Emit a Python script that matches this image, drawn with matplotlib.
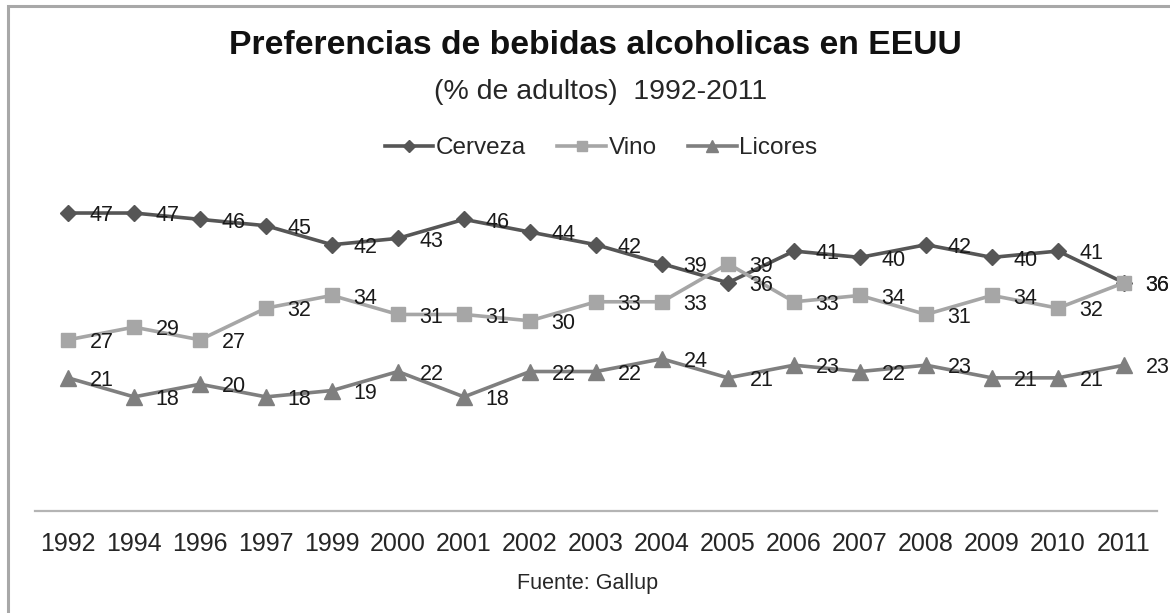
import matplotlib.pyplot as plt
from matplotlib.patches import Rectangle

# Datos (% de adultos que prefieren cada bebida)
anios = ['1992', '1994', '1996', '1997', '1999', '2000', '2001', '2002', '2003',
         '2004', '2005', '2006', '2007', '2008', '2009', '2010', '2011']
cerveza = [47, 47, 46, 45, 42, 43, 46, 44, 42, 39, 36, 41, 40, 42, 40, 41, 36]
vino = [27, 29, 27, 32, 34, 31, 31, 30, 33, 33, 39, 33, 34, 31, 34, 32, 36]
licores = [21, 18, 20, 18, 19, 22, 18, 22, 22, 24, 21, 23, 22, 23, 21, 21, 23]

plt.rcParams['font.family'] = ['Liberation Sans', 'DejaVu Sans']

fig = plt.figure(figsize=(11.7, 6.13), dpi=100)
fig.patch.set_facecolor('white')

# marco gris del grafico
fig.patches.append(Rectangle((8 / 1170, -0.2), 1.2, 1.2 - 6 / 613,
                             transform=fig.transFigure, fill=False,
                             edgecolor='#a8a8a8', linewidth=2.2))

ax = fig.add_axes([35 / 1170, (613 - 511) / 613, 1122 / 1170, (511 - 194) / 613])
x = list(range(len(anios)))

series = [
    ('Cerveza', cerveza, '#565656', 'D', 8.5),
    ('Vino', vino, '#a6a6a6', 's', 10),
    ('Licores', licores, '#7f7f7f', '^', 11),
]
for i, (nombre, valores, color, marcador, ms) in enumerate(series):
    ax.plot(x, valores, color=color, linewidth=2.6, marker=marcador,
            markersize=ms, label=nombre, zorder=3 + i)
    for xi, v in zip(x, valores):
        ax.annotate(str(v), (xi, v), xytext=(15.5, -2), textcoords='offset points',
                    ha='left', va='center', fontsize=15.5, color='#1a1a1a',
                    zorder=10, annotation_clip=False)

ax.set_xlim(-0.5, len(anios) - 0.5)
ax.set_ylim(0, 50)
ax.set_xticks(x)
ax.set_xticklabels(anios, fontsize=18, color='#262626')
ax.tick_params(axis='x', length=0, pad=15)
ax.set_yticks([])
for lado in ['top', 'right', 'left']:
    ax.spines[lado].set_visible(False)
ax.spines['bottom'].set_color('#b4b4b4')
ax.spines['bottom'].set_linewidth(1.6)

# titulos
fig.text(595 / 1170, 1 - 45 / 613, 'Preferencias de bebidas alcoholicas en EEUU',
         ha='center', va='center', fontsize=24.3, fontweight='bold', color='#111111')
fig.text(601 / 1170, 1 - 92 / 613, '(% de adultos)  1992-2011',
         ha='center', va='center', fontsize=20.5, color='#262626')
fig.text(588 / 1170, 1 - 583 / 613, 'Fuente: Gallup',
         ha='center', va='center', fontsize=15.5, color='#262626')

fig.legend(loc='center', bbox_to_anchor=(601 / 1170, 1 - 148 / 613), ncol=3,
           frameon=False, fontsize=17.5, handlelength=2.0, handletextpad=0.1,
           columnspacing=1.3, markerscale=0.75, labelcolor='#262626')

fig.savefig('out.png', dpi=100)
